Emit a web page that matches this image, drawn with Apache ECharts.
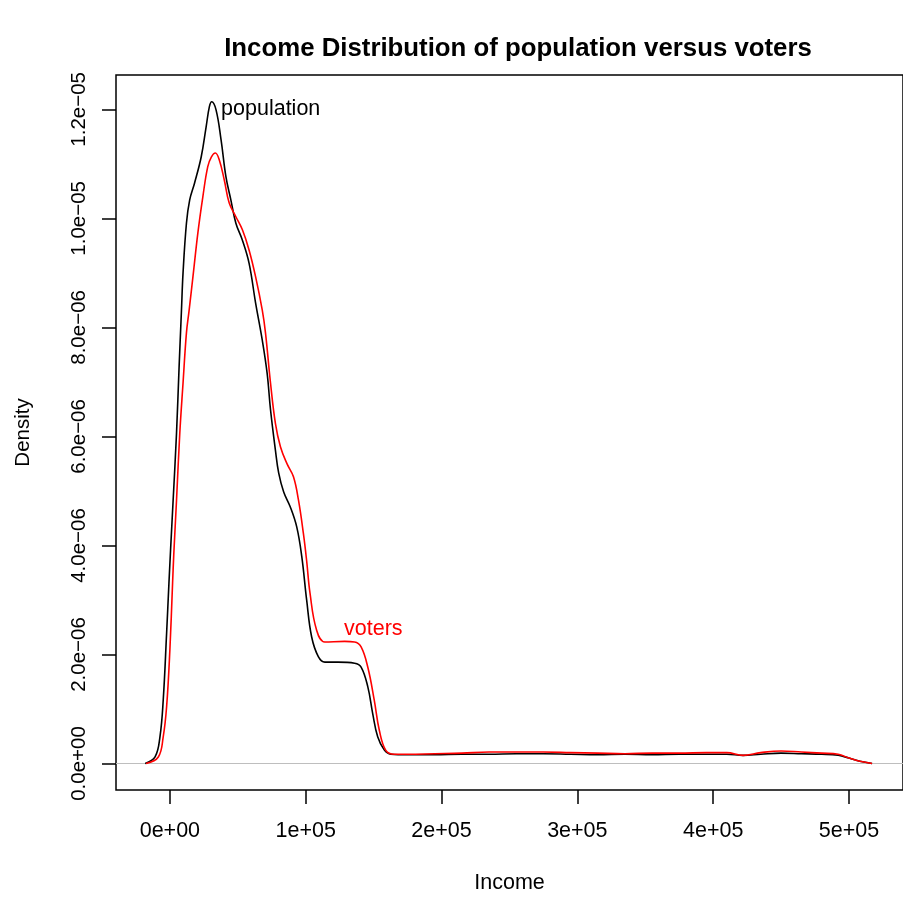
<!DOCTYPE html>
<html>
<head>
<meta charset="utf-8">
<script src="https://cdn.jsdelivr.net/npm/echarts@6/dist/echarts.min.js"></script>
<style>
  html, body { margin: 0; padding: 0; background: #fff; }
  #chart { width: 903px; height: 899px; }
</style>
</head>
<body>
<div id="chart"></div>
<script>
// Kernel density estimates of income (x) for the whole population and for voters.
const incomePopulation = [
  -18200, -10900, -7300, -4900, -2400, -700, 500, 2400, 4900, 6800, 8500, 9700,
  12200, 14600, 18200, 23100, 26700, 29100, 30800, 34000, 37700, 41300, 44900,
  48600, 53400, 58300, 63100, 68000, 71600, 74100, 77700, 80100, 83800, 88600,
  93400, 97100, 100700, 104400, 109300, 114100, 123800, 136000, 140800, 145700,
  149300, 153000, 157800, 162600,
  175000, 195000, 215000, 235000, 255000, 275000, 295000, 315000, 335000, 355000,
  375000, 395000, 410000, 422000, 435000, 450000, 465000, 480000, 492000, 500000,
  508000, 517000
];
const densityPopulation = [
  0, 0.12e-6, 0.49e-6, 1.16e-6, 2.39e-6, 3.30e-6, 3.91e-6, 4.83e-6, 6.06e-6, 7.28e-6, 8.29e-6, 9.00e-6,
  9.91e-6, 10.34e-6, 10.65e-6, 11.13e-6, 11.68e-6, 12.05e-6, 12.14e-6, 11.99e-6, 11.44e-6, 10.76e-6, 10.34e-6,
  9.91e-6, 9.60e-6, 9.18e-6, 8.45e-6, 7.77e-6, 7.16e-6, 6.49e-6, 5.75e-6, 5.33e-6, 4.98e-6, 4.71e-6,
  4.34e-6, 3.80e-6, 3.00e-6, 2.32e-6, 1.96e-6, 1.86e-6, 1.86e-6, 1.84e-6, 1.77e-6, 1.41e-6,
  0.92e-6, 0.49e-6, 0.25e-6, 0.17e-6,
  0.16e-6, 0.16e-6, 0.17e-6, 0.17e-6, 0.18e-6, 0.18e-6, 0.17e-6, 0.16e-6, 0.17e-6, 0.16e-6,
  0.17e-6, 0.17e-6, 0.17e-6, 0.15e-6, 0.17e-6, 0.19e-6, 0.18e-6, 0.17e-6, 0.15e-6, 0.10e-6,
  0.04e-6, 0
];

const incomeVoters = [
  -17500, -8500, -4900, -2400, 0, 2000, 2900, 4900, 7300, 9700, 12200, 14100,
  17000, 20600, 24300, 27900, 30600, 33500, 36400, 40100, 43700, 48600, 53400,
  58300, 63100, 68000, 70400, 74100, 77700, 81400, 86200, 91000, 94700, 98300,
  100700, 103200, 108000, 114100, 128700, 136000, 140800, 145700, 150500, 154200,
  159000, 165100,
  175000, 195000, 215000, 235000, 255000, 275000, 295000, 315000, 335000, 355000,
  375000, 395000, 410000, 422000, 435000, 450000, 465000, 480000, 492000, 500000,
  508000, 517000
];
const densityVoters = [
  0, 0.12e-6, 0.49e-6, 1.04e-6, 2.08e-6, 3.31e-6, 3.85e-6, 4.83e-6, 6.06e-6, 6.98e-6, 7.90e-6, 8.30e-6,
  8.93e-6, 9.73e-6, 10.40e-6, 10.95e-6, 11.13e-6, 11.20e-6, 11.07e-6, 10.70e-6, 10.28e-6, 10.03e-6, 9.79e-6,
  9.42e-6, 8.93e-6, 8.32e-6, 7.90e-6, 6.98e-6, 6.24e-6, 5.81e-6, 5.50e-6, 5.26e-6, 4.83e-6, 4.22e-6,
  3.72e-6, 3.12e-6, 2.45e-6, 2.23e-6, 2.24e-6, 2.23e-6, 2.14e-6, 1.77e-6, 1.16e-6, 0.61e-6,
  0.24e-6, 0.17e-6,
  0.17e-6, 0.18e-6, 0.19e-6, 0.21e-6, 0.21e-6, 0.21e-6, 0.20e-6, 0.19e-6, 0.18e-6, 0.19e-6,
  0.19e-6, 0.20e-6, 0.20e-6, 0.15e-6, 0.20e-6, 0.23e-6, 0.21e-6, 0.19e-6, 0.17e-6, 0.10e-6,
  0.04e-6, 0
];

// Axis ticks and their printed labels
const xTickValues = [0, 100000, 200000, 300000, 400000, 500000];
const xTickLabels = ['0e+00', '1e+05', '2e+05', '3e+05', '4e+05', '5e+05'];
const yTickValues = [0, 2e-6, 4e-6, 6e-6, 8e-6, 10e-6, 12e-6];
const yTickLabels = ['0.0e+00', '2.0e\u221206', '4.0e\u221206', '6.0e\u221206', '8.0e\u221206', '1.0e\u221205', '1.2e\u221205'];

// Text annotations placed in data coordinates
const populationLabelAt = [37700, 12.01e-6];
const votersLabelAt = [128200, 2.46e-6];

const FONT = 'Liberation Sans, Arial, Helvetica, sans-serif';

function pairs(xs, ys) { return xs.map((x, i) => [x, ys[i]]); }
function labelFor(values, labels) {
  return v => {
    const i = values.findIndex(t => Math.abs(t - v) <= Math.abs(t) * 1e-9 + 1e-15);
    return i >= 0 ? labels[i] : '';
  };
}

const chart = echarts.init(document.getElementById('chart'), null, { renderer: 'canvas' });

chart.setOption({
  animation: false,
  backgroundColor: '#ffffff',
  title: {
    text: 'Income Distribution of population versus voters',
    left: 513,
    top: 31,
    textAlign: 'center',
    textStyle: { fontFamily: FONT, fontSize: 25.8, fontWeight: 'bold', color: '#000' }
  },
  grid: {
    left: 116,
    top: 75,
    width: 795,
    height: 715,
    show: true,
    borderColor: '#000',
    borderWidth: 1.5,
    backgroundColor: 'transparent'
  },
  xAxis: {
    type: 'value',
    min: -39660,
    max: 539760,
    name: 'Income',
    nameLocation: 'middle',
    nameGap: 82,
    nameTextStyle: { fontFamily: FONT, fontSize: 21.5, color: '#000' },
    axisLine: { show: false, onZero: false },
    splitLine: { show: false },
    axisTick: {
      show: true, inside: false, length: 14,
      customValues: xTickValues,
      lineStyle: { color: '#000', width: 1.5 }
    },
    axisLabel: {
      show: true, margin: 30,
      customValues: xTickValues,
      formatter: labelFor(xTickValues, xTickLabels),
      fontFamily: FONT, fontSize: 21.5, color: '#000'
    }
  },
  yAxis: {
    type: 'value',
    min: -0.486e-6,
    max: 12.63e-6,
    name: 'Density',
    nameLocation: 'middle',
    nameGap: 82,
    nameRotate: 90,
    nameTextStyle: { fontFamily: FONT, fontSize: 20.5, color: '#000' },
    axisLine: { show: false, onZero: false },
    splitLine: { show: false },
    axisTick: {
      show: true, inside: false, length: 14,
      customValues: yTickValues,
      lineStyle: { color: '#000', width: 1.5 }
    },
    axisLabel: {
      show: true, margin: 26, rotate: 90,
      customValues: yTickValues,
      formatter: labelFor(yTickValues, yTickLabels),
      fontFamily: FONT, fontSize: 20.5, color: '#000'
    }
  },
  series: [
    {
      name: 'population',
      type: 'line',
      data: pairs(incomePopulation, densityPopulation),
      showSymbol: false,
      symbol: 'none',
      smooth: 0.4,
      lineStyle: { color: '#000000', width: 1.6 },
      z: 3,
      markLine: {
        silent: true,
        symbol: ['none', 'none'],
        label: { show: false },
        lineStyle: { color: '#bebebe', type: 'solid', width: 1.2 },
        data: [{ yAxis: 0 }],
        z: 1
      },
      markPoint: {
        silent: true,
        symbol: 'circle',
        symbolSize: 0,
        data: [{
          coord: populationLabelAt,
          label: {
            show: true, formatter: 'population', position: 'right', distance: 0,
            fontFamily: FONT, fontSize: 21.5, color: '#000'
          }
        }]
      }
    },
    {
      name: 'voters',
      type: 'line',
      data: pairs(incomeVoters, densityVoters),
      showSymbol: false,
      symbol: 'none',
      smooth: 0.4,
      lineStyle: { color: '#ff0000', width: 1.6 },
      z: 4,
      markPoint: {
        silent: true,
        symbol: 'circle',
        symbolSize: 0,
        data: [{
          coord: votersLabelAt,
          label: {
            show: true, formatter: 'voters', position: 'right', distance: 0,
            fontFamily: FONT, fontSize: 21.5, color: '#ff0000'
          }
        }]
      }
    }
  ]
});
</script>
</body>
</html>
